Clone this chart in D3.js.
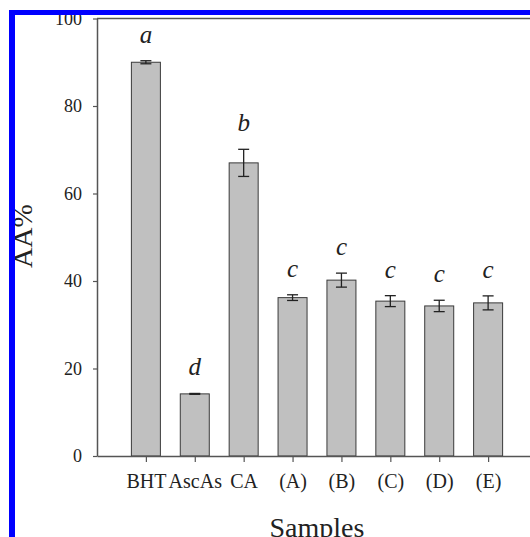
<!DOCTYPE html>
<html>
<head>
<meta charset="utf-8">
<script src="https://cdn.jsdelivr.net/npm/d3@7"></script>
<style>
  html, body { margin: 0; padding: 0; background: #fff; }
  svg { display: block; }
  text { font-family: "Liberation Serif", "Times New Roman", serif; fill: #222; }
</style>
</head>
<body>
<svg id="chart" width="530" height="537"></svg>
<script>
const categories = ["BHT", "AscAs", "CA", "(A)", "(B)", "(C)", "(D)", "(E)"];
const values = [90.0, 14.2, 67.0, 36.2, 40.2, 35.4, 34.3, 35.0];
const errors = [0.35, 0.1, 3.1, 0.65, 1.6, 1.25, 1.3, 1.6];
const letters = ["a", "d", "b", "c", "c", "c", "c", "c"];
const yTicks = [0, 20, 40, 60, 80, 100];

const svg = d3.select("#chart");
const x = d3.scaleLinear().domain([0, 9]).range([97, 537]);
const y = d3.scaleLinear().domain([0, 100]).range([456, 18.5]);
const barW = 29;
const capW = 11;
const axisColor = "#555";

// frame top line
svg.append("line")
  .attr("x1", x(0)).attr("x2", x(9))
  .attr("y1", y(100)).attr("y2", y(100))
  .attr("stroke", axisColor).attr("stroke-width", 1.5);

// bars
svg.selectAll("rect.bar").data(values).join("rect")
  .attr("class", "bar")
  .attr("x", (d, i) => x(i + 1) - barW / 2)
  .attr("y", d => y(d))
  .attr("width", barW)
  .attr("height", d => y(0) - y(d))
  .attr("fill", "#c0c0c0")
  .attr("stroke", "#3a3a3a")
  .attr("stroke-width", 1);

// error bars
const eg = svg.append("g").attr("stroke", "#222").attr("stroke-width", 1.3);
values.forEach((v, i) => {
  const cx = x(i + 1);
  const e = errors[i];
  eg.append("line").attr("x1", cx).attr("x2", cx).attr("y1", y(v + e)).attr("y2", y(v - e));
  eg.append("line").attr("x1", cx - capW / 2).attr("x2", cx + capW / 2).attr("y1", y(v + e)).attr("y2", y(v + e));
  eg.append("line").attr("x1", cx - capW / 2).attr("x2", cx + capW / 2).attr("y1", y(v - e)).attr("y2", y(v - e));
});

// significance letters
svg.selectAll("text.sig").data(values).join("text")
  .attr("class", "sig")
  .attr("x", (d, i) => x(i + 1))
  .attr("y", (d, i) => y(d + errors[i]) - 18)
  .attr("text-anchor", "middle")
  .style("font-size", "25px")
  .style("font-style", "italic")
  .text((d, i) => letters[i]);

// y axis
const yAxis = svg.append("g")
  .attr("transform", `translate(${x(0)},0)`)
  .call(d3.axisLeft(y).tickValues(yTicks).tickSize(4).tickPadding(11).tickSizeOuter(0));
yAxis.select(".domain").attr("stroke", axisColor).attr("stroke-width", 1.5);
yAxis.selectAll(".tick line").attr("stroke", axisColor).attr("stroke-width", 1.2);
yAxis.selectAll(".tick text")
  .style("font-family", "'Liberation Serif', 'Times New Roman', serif")
  .style("font-size", "18px").attr("fill", "#222");

// x axis
const xAxis = svg.append("g")
  .attr("transform", `translate(0,${y(0)})`)
  .call(d3.axisBottom(x).tickValues(d3.range(1, categories.length + 1))
    .tickFormat(d => categories[d - 1]).tickSize(6).tickPadding(12).tickSizeOuter(0));
xAxis.select(".domain").attr("stroke", axisColor).attr("stroke-width", 1.5);
xAxis.selectAll(".tick line").attr("stroke", axisColor).attr("stroke-width", 1.2);
xAxis.selectAll(".tick text")
  .style("font-family", "'Liberation Serif', 'Times New Roman', serif")
  .style("font-size", "20px").attr("fill", "#222");

// axis titles
svg.append("text")
  .attr("x", (x(0) + x(9)) / 2)
  .attr("y", 537)
  .attr("text-anchor", "middle")
  .style("font-size", "28px")
  .text("Samples");

svg.append("text")
  .attr("transform", "translate(32,236) rotate(-90)")
  .attr("text-anchor", "middle")
  .style("font-size", "28px")
  .text("AA%");

// blue border
svg.append("rect").attr("x", 9).attr("y", 10).attr("width", 6).attr("height", 527).attr("fill", "#0000ff");
svg.append("rect").attr("x", 9).attr("y", 10).attr("width", 521).attr("height", 5).attr("fill", "#0000ff");
</script>
</body>
</html>
